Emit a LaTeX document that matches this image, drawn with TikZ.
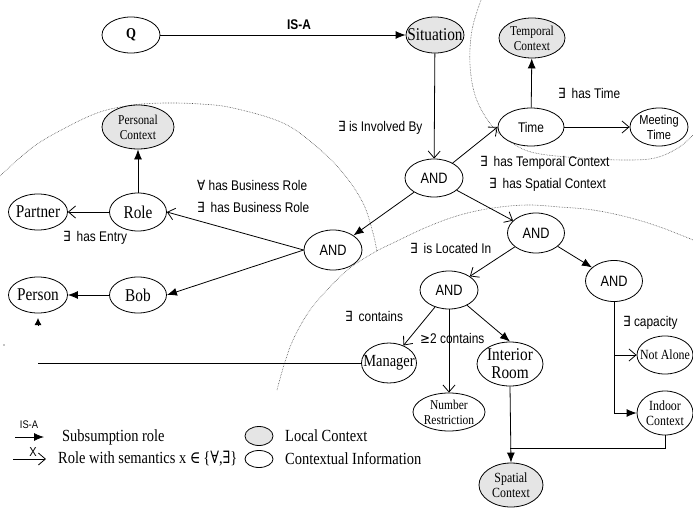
\documentclass[tikz,border=0pt]{standalone}
\usepackage{fontspec}
\setmainfont{Liberation Serif}[FakeStretch=0.85]
\newfontfamily\lsans{Liberation Sans}[FakeStretch=0.85]
\newfontfamily\dsans{DejaVu Sans}[FakeStretch=0.85]
\newfontfamily\dserif{DejaVu Serif}[FakeStretch=0.85]
\usetikzlibrary{shapes.geometric,arrows.meta}
\newcommand\exq{{\dsans\char"2203}}
\newcommand\faq{{\dsans\char"2200}}
\newcommand\geqsym{{\dsans\char"2265}}
\newcommand\elq{{\dserif\char"2208}}
\newcommand\exs{{\dserif\char"2203}}
\newcommand\fas{{\dserif\char"2200}}
\begin{document}
\begin{tikzpicture}[x=1pt,y=-1pt,
  ctx/.style={ellipse, draw, line width=0.8pt, inner xsep=-10pt, inner ysep=-5pt, align=center, fill=white},
  loc/.style={ctx, fill=gray!20},
  big/.style={font=\fontsize{18}{18}\selectfont},
  small/.style={font=\fontsize{13.5}{15}\selectfont},
  sn/.style={font=\lsans\fontsize{15}{16}\selectfont},
  lbl/.style={font=\lsans\fontsize{14}{16}\selectfont, inner sep=0pt, anchor=west},
  isa/.style={line width=0.8pt, -{Latex[length=10pt,width=8pt]}},
  rel/.style={line width=0.8pt, -{Straight Barb[length=7pt,width=12pt,line width=0.8pt]}},
  arcd/.style={densely dotted, line width=0.6pt, black!70},
  lg/.style={font=\fontsize{17}{18}\selectfont, inner sep=0pt, anchor=west}
]
\useasboundingbox (0,0) rectangle (693,508);

% dotted region boundaries
\draw[arcd] plot[smooth, tension=0.6] coordinates {(481,0) (472,30) (470,65) (476,98) (492,126) (512,143) (535,153) (580,158) (625,160) (655,158) (678,148) (693,135)};
\draw[arcd] plot[smooth, tension=0.6] coordinates {(0,176) (33,147) (67,127) (100,112) (133,105) (165,103) (200,104) (233,108) (283,123) (317,147) (343,173) (363,203) (373,233) (377,252)};
\draw[arcd] plot[smooth, tension=0.6] coordinates {(277,390) (284,365) (293,340) (308,313) (327,290) (350,268) (375,252) (393,243) (427,227) (460,215) (493,208) (527,205) (560,207) (593,210) (627,217) (660,227) (693,240)};
\fill (4,345) circle (0.6);

% nodes
\node[ctx, minimum width=58, minimum height=36, font=\bfseries\fontsize{15}{16}\selectfont] (Q) at (131,35) {Q};
\node[loc, big, minimum width=58, minimum height=36] (Sit) at (435,35) {Situation};
\node[loc, small, minimum width=66, minimum height=40] (TC) at (532,38) {Temporal\\Context};
\node[ctx, font=\lsans\fontsize{14}{16}\selectfont, minimum width=66, minimum height=38] (Time) at (531,127) {Time};
\node[ctx, font=\lsans\fontsize{13}{15}\selectfont, minimum width=58, minimum height=38] (MT) at (659,127) {Meeting\\Time};
\node[ctx, sn, minimum width=58, minimum height=38] (A1) at (434,178) {AND};
\node[loc, small, minimum width=72, minimum height=44] (PC) at (138,127) {Personal\\Context};
\node[ctx, big, minimum width=59, minimum height=36] (Partner) at (38,212) {Partner};
\node[ctx, big, minimum width=57, minimum height=38] (Role) at (138,212) {Role};
\node[ctx, sn, minimum width=58, minimum height=40] (Ap) at (333,250) {AND};
\node[ctx, big, minimum width=59, minimum height=36] (Person) at (38,295) {Person};
\node[ctx, big, minimum width=57, minimum height=36] (Bob) at (138,295) {Bob};
\node[ctx, sn, minimum width=57, minimum height=40] (A2) at (536,233) {AND};
\node[ctx, sn, minimum width=58, minimum height=38] (A3) at (449,290) {AND};
\node[ctx, sn, minimum width=57, minimum height=41] (A4) at (614,281) {AND};
\node[ctx, font=\fontsize{17}{18}\selectfont, minimum width=55, minimum height=40] (Man) at (389,363) {Manager};
\node[ctx, big, minimum width=66, minimum height=44] (Int) at (510,364) {Interior\\Room};
\node[ctx, small, minimum width=72, minimum height=38] (NR) at (449,412) {Number\\Restriction};
\node[ctx, font=\fontsize{14}{15}\selectfont, minimum width=56, minimum height=38] (NA) at (665,355) {Not Alone};
\node[ctx, font=\fontsize{14}{15}\selectfont, minimum width=56, minimum height=44] (Ind) at (665,413) {Indoor\\Context};
\node[loc, font=\fontsize{14}{15}\selectfont, minimum width=64, minimum height=44] (Sp) at (511,485) {Spatial\\Context};

\coordinate (J) at (510,448);
\coordinate (MEnd) at (38,363);

% connectors
\draw[isa] (Q) -- (Sit);
\draw[rel] (Sit) -- (A1);
\draw[rel] (A1) -- (Time.west);
\draw[isa] (Time) -- (TC);
\draw[rel] (Time) -- (MT);
\draw[isa] (A1) -- (Ap);
\draw[rel] (A1) -- (A2);
\draw[rel] (Ap.west) -- (Role.east);
\draw[isa] (Ap.west) -- (Bob.east);
\draw[rel] (Role) -- (Partner);
\draw[isa] (Role) -- (PC);
\draw[isa] (Bob) -- (Person);
\draw[rel] (A2) -- (A3);
\draw[isa] (A2) -- (A4);
\draw[rel] (A3) -- (Man);
\draw[rel] (A3.south) -- (NR.north);
\draw[isa] (A3) -- (Int.north);
\draw[rel] (A4.south) |- (NA.west);
\draw[isa] (A4.south) |- (Ind.west);
\draw[isa] (Int.south) -- (Sp.north);
\draw[line width=0.8pt] (Ind.south) |- (J);
\draw[line width=0.8pt] (Man.west) -- (MEnd);
\draw[-{Latex[length=7pt,width=7pt]}, line width=0.8pt] (38,326) -- (38,318);

% edge labels
\node[font=\lsans\bfseries\fontsize{14}{16}\selectfont, inner sep=0pt] (lisa) at (299,25) {IS-A};
\node[lbl] (l1) at (338,128) {\exq\ is Involved By};
\node[lbl] (l2) at (558,93) {\exq\hspace{6pt}has Time};
\node[lbl] (l3) at (480,163) {\exq\hspace{6pt}has Temporal Context};
\node[lbl] (l4) at (489,185) {\exq\hspace{6pt}has Spatial Context};
\node[lbl] (l5) at (197,185) {\faq\ has Business Role};
\node[lbl] (l6) at (197,207) {\exq\hspace{6pt}has Business Role};
\node[lbl] (l7) at (63,238) {\exq\hspace{6pt}has Entry};
\node[lbl] (l8) at (410,248) {\exq\hspace{6pt}is Located In};
\node[lbl] (l9) at (345,316) {\exq\hspace{6pt}contains};
\node[lbl] (l10) at (420,338) {\geqsym2 contains};
\node[lbl] (l11) at (623,323) {\exq\ capacity};

% legend
\node[font=\lsans\fontsize{11}{12}\selectfont, inner sep=0pt] (lgisa) at (29,425) {IS-A};
\coordinate (lga) at (15,437);
\coordinate (lgb) at (44,437);
\draw[isa] (lga) -- (lgb);
\node[lg] (lgt1) at (62,437) {Subsumption role};
\node[font=\lsans\fontsize{13}{14}\selectfont, inner sep=0pt] (lgx) at (33,452) {X};
\coordinate (lgc) at (13,459);
\coordinate (lgd) at (46,459);
\draw[rel] (lgc) -- (lgd);
\node[lg] (lgt2) at (58,459) {Role with semantics x \elq\,\{\fas,\exs\}};
\node[loc, minimum width=28, minimum height=19] (lge1) at (259,436) {};
\node[lg] (lgt3) at (285,436) {Local Context};
\node[ctx, minimum width=28, minimum height=17] (lge2) at (259,459) {};
\node[lg] (lgt4) at (285,459) {Contextual Information};
\end{tikzpicture}
\end{document}
